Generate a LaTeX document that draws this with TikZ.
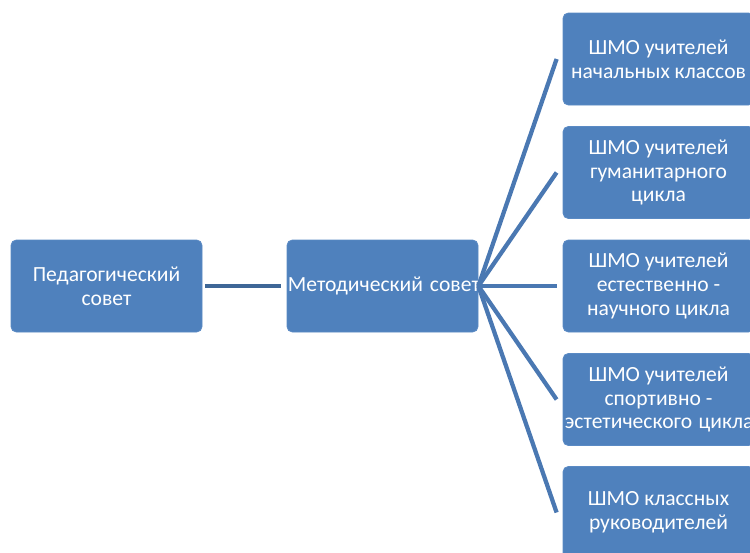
\documentclass[tikz,border=0pt]{standalone}
\usepackage{fontspec}
\setmainfont{Carlito}
\begin{document}
\begin{tikzpicture}[x=0.75pt,y=-0.75pt,
  box/.style={draw=boxedge,fill=boxfill,rounded corners=4pt,line width=0.6pt,
    minimum width=143.25pt,minimum height=69pt,inner sep=0pt,align=center,
    text=white,font=\fontsize{16.2pt}{17.8pt}\selectfont},
  link/.style={line width=3.2pt,draw=linecol},
  mainlink/.style={line width=3.6pt,draw=maincol}]
\definecolor{boxfill}{HTML}{4F81BD}
\definecolor{boxedge}{HTML}{5A8AC4}
\definecolor{linecol}{HTML}{4A78B2}
\definecolor{maincol}{HTML}{3E6797}
\useasboundingbox (0,0) rectangle (750,553);
\node[box] (ped) at (106.5,286) {Педагогический\\совет};
\node[box] (met) at (382.5,286) {\makebox[0pt]{\hspace{2pt}Методический\hspace{0.32em}совет}};
\node[box] (r1) at (658.5,59) {ШМО учителей\\начальных классов};
\node[box] (r2) at (658.5,172.5) {ШМО учителей\\гуманитарного\\цикла};
\node[box] (r3) at (658.5,286) {ШМО учителей\\естественно -\\научного цикла};
\node[box] (r4) at (658.5,399.5) {ШМО учителей\\спортивно -\\\makebox[0pt]{\hspace{1pt}эстетического\hspace{0.3em}цикла}};
\node[box] (r5) at (658.5,512.5) {ШМО классных\\руководителей};
\draw[mainlink] ([xshift=2pt]ped.east) -- ([xshift=-4pt]met.west);
\foreach \r in {r1,r2,r3,r4,r5}
  \draw[link] (met.east) -- ([xshift=-4.5pt]\r.west);
\end{tikzpicture}
\end{document}
